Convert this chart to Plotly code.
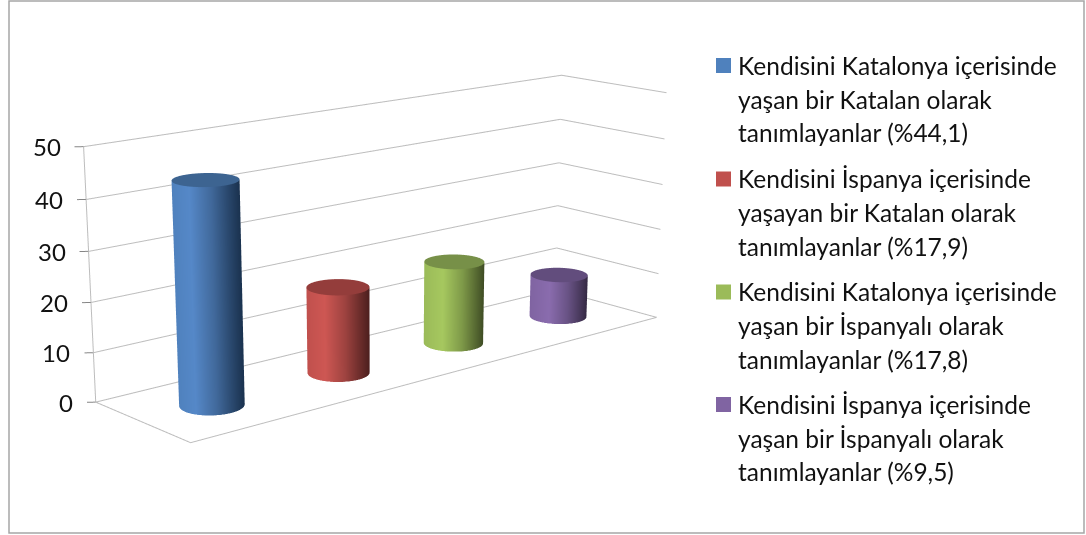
import numpy as np
import plotly.graph_objects as go

series_values = [44.1, 17.9, 17.8, 9.5]
base_colors = ["#4F81BD", "#C0504D", "#9BBB59", "#8064A2"]
light_colors = ["#5588C8", "#CE5753", "#A6C85F", "#8A6CAE"]
mid_colors = ["#41699B", "#9E4340", "#7F9A49", "#695385"]
dark_colors = ["#1B3350", "#4C1F1E", "#3E4B24", "#332841"]
top_colors = ["#3D6491", "#943D3B", "#779048", "#624D7D"]
z_ticks = [0, 10, 20, 30, 40, 50]
legend_lines = [
    ["Kendisini Katalonya içerisinde", "yaşan bir Katalan olarak", "tanımlayanlar (%44,1)"],
    ["Kendisini İspanya içerisinde", "yaşayan bir Katalan olarak", "tanımlayanlar (%17,9)"],
    ["Kendisini Katalonya içerisinde", "yaşan bir İspanyalı olarak", "tanımlayanlar (%17,8)"],
    ["Kendisini İspanya içerisinde", "yaşan bir İspanyalı olarak", "tanımlayanlar (%9,5)"],
]

W, H = 1086, 535
# The reference has a long lens: a tall plot area shifted up and clipped by the page gives the same focal length.
PLOT_H = 1657
TOP = -428
FONT = "Lato, 'Open Sans', sans-serif"
GRID = "#bdbdbd"
TICK = "#868686"
X_MAX, Y_MAX = 4.0, 1.0
X_PAD, Y_PAD = 0.043, 0.033
X_END_PAD = 0.04
LX, LY, LZ = 2.543, 0.625, 1.0
EYE0 = np.array([-5.263, -5.964, 1.933])
CENTER0 = np.array([-0.272, -0.234, -0.574])
RADIUS_SCENE = 0.126
BAR_Y = 0.48

rx = RADIUS_SCENE * X_MAX / LX
ry = RADIUS_SCENE * Y_MAX / LY
shift = np.array([(X_END_PAD - X_PAD) / 2 * LX / X_MAX, Y_PAD / 2 * LY / Y_MAX, 0])
eye = EYE0 - shift
center = CENTER0 - shift
aspect = dict(x=LX * (X_MAX + X_PAD + X_END_PAD) / X_MAX, y=LY * (Y_MAX + Y_PAD) / Y_MAX, z=LZ)
forward = CENTER0[:2] - EYE0[:2]
forward = forward / np.hypot(*forward)
right = np.array([forward[1], -forward[0]])

fig = go.Figure()
light = dict(ambient=1, diffuse=0, specular=0, roughness=1, fresnel=0)
for i, v in enumerate(series_values):
    cx, cy = i + 0.5, BAR_Y
    th = np.linspace(0, 2 * np.pi, 97)
    T, Z = np.meshgrid(th, np.array([0, v]))
    X = cx + rx * np.cos(T)
    Y = cy + ry * np.sin(T)
    u = np.cos(T) * right[0] + np.sin(T) * right[1]
    scale = [
        [0, base_colors[i]],
        [0.3, light_colors[i]],
        [0.62, mid_colors[i]],
        [1, dark_colors[i]],
    ]
    fig.add_surface(x=X, y=Y, z=Z, surfacecolor=u, cmin=-1, cmax=1, colorscale=scale,
                    showscale=False, hoverinfo="skip", lighting=light)
    T2, R2 = np.meshgrid(th, np.array([0, 1]))
    Xt = cx + rx * R2 * np.cos(T2)
    Yt = cy + ry * R2 * np.sin(T2)
    fig.add_surface(x=Xt, y=Yt, z=np.full_like(Xt, v), surfacecolor=np.zeros_like(Xt), cmin=-1, cmax=1,
                    colorscale=[[0, top_colors[i]], [1, top_colors[i]]],
                    showscale=False, hoverinfo="skip", lighting=light)

line_style = dict(color=GRID, width=2)
for t in z_ticks:
    fig.add_scatter3d(x=[0, X_MAX], y=[Y_MAX, Y_MAX], z=[t, t], mode="lines",
                      line=line_style, hoverinfo="skip", showlegend=False)
    fig.add_scatter3d(x=[X_MAX, X_MAX], y=[Y_MAX, 0], z=[t, t], mode="lines",
                      line=line_style, hoverinfo="skip", showlegend=False)
    fig.add_scatter3d(x=[-X_PAD, 0], y=[Y_MAX + Y_PAD, Y_MAX], z=[t, t], mode="lines",
                      line=dict(color=TICK, width=2), hoverinfo="skip", showlegend=False)
fig.add_scatter3d(x=[0, 0], y=[Y_MAX, Y_MAX], z=[z_ticks[0], z_ticks[-1]], mode="lines",
                  line=line_style, hoverinfo="skip", showlegend=False)
fig.add_scatter3d(x=[0, 0], y=[Y_MAX, 0], z=[0, 0], mode="lines",
                  line=line_style, hoverinfo="skip", showlegend=False)
fig.add_scatter3d(x=[0, X_MAX], y=[0, 0], z=[0, 0], mode="lines",
                  line=line_style, hoverinfo="skip", showlegend=False)

ax = dict(visible=False, showgrid=False, zeroline=False, showbackground=False)
tick_annotations = [
    dict(x=0, y=Y_MAX, z=t, text=str(t), showarrow=False, xanchor="right", xshift=-21,
         font=dict(family=FONT, size=24, color="#111111"))
    for t in z_ticks
]
fig.update_layout(
    width=W, height=PLOT_H, margin=dict(l=0, r=0, t=0, b=0), showlegend=False,
    paper_bgcolor="white",
    scene=dict(
        domain=dict(x=[0.0, 766 / W], y=[0.0, 1.0]),
        xaxis=dict(ax, range=[-X_PAD, X_MAX + X_END_PAD]),
        yaxis=dict(ax, range=[0, Y_MAX + Y_PAD]),
        zaxis=dict(ax, range=[z_ticks[0], z_ticks[-1]]),
        aspectmode="manual", aspectratio=aspect,
        camera=dict(eye=dict(x=eye[0], y=eye[1], z=eye[2]),
                    center=dict(x=center[0], y=center[1], z=center[2]),
                    up=dict(x=0, y=0, z=1), projection=dict(type="perspective")),
        annotations=tick_annotations,
    ),
)

px = lambda x: x / W
py = lambda y: 1 - (y - TOP) / PLOT_H
shapes = [dict(type="rect", xref="paper", yref="paper", x0=px(9), x1=px(1084), y0=py(533), y1=py(1),
               line=dict(color="#a6a6a6", width=1.5))]
ann2 = []
line_h = 34
block_y = [65, 178.5, 291.5, 404]
for k, lines in enumerate(legend_lines):
    y0 = block_y[k]
    shapes.append(dict(type="rect", xref="paper", yref="paper", x0=px(716), x1=px(731),
                       y0=py(y0 + 8), y1=py(y0 - 7), fillcolor=base_colors[k], line=dict(width=0)))
    for j, s in enumerate(lines):
        ann2.append(dict(xref="paper", yref="paper", x=px(736), y=py(y0 + j * line_h), text=s,
                         showarrow=False, xanchor="left", yanchor="middle",
                         font=dict(family=FONT, size=24.5, color="#111111")))
fig.update_layout(shapes=shapes, annotations=ann2)
post = (
    "document.documentElement.style.overflow='hidden';"
    "document.body.style.margin='0';document.body.style.overflow='hidden';"
    "var gd=document.getElementById('{plot_id}');"
    f"gd.style.position='absolute';gd.style.left='0px';gd.style.top='{TOP}px';"
)
fig.write_html("out.html", config=dict(displayModeBar=False), post_script=post)
